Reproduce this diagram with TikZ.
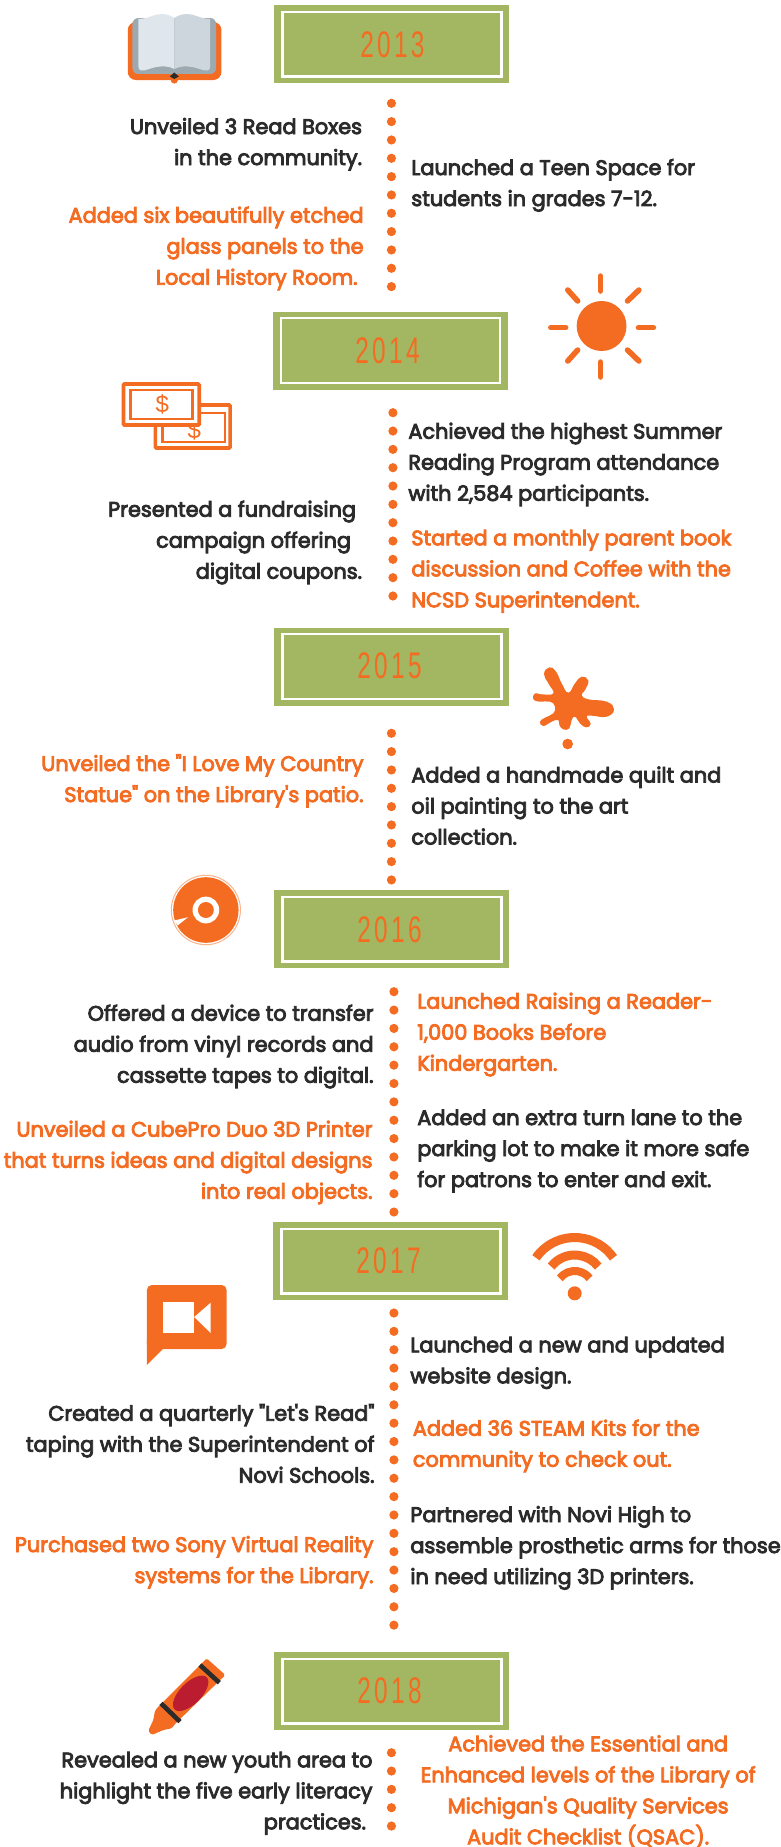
\documentclass[tikz,border=0pt]{standalone}
\usepackage{fontspec}
\setmainfont{Poppins}[FakeBold=4,FakeStretch=0.993]
\newfontfamily\yearfont{Liberation Sans}[FakeStretch=0.66,LetterSpace=9]
\newfontfamily\moneyfont{Liberation Sans}
\definecolor{org}{HTML}{F36C21}
\definecolor{grn}{HTML}{A3B763}
\definecolor{ink}{HTML}{2B2B2B}
\definecolor{bookgray}{HTML}{9DA9B0}
\definecolor{pageL}{HTML}{DFE6EC}
\definecolor{pageR}{HTML}{CDD6DD}
\definecolor{discring}{HTML}{F9B48E}
\definecolor{crayred}{HTML}{BC1C2F}
\tikzset{
  x=.996pt,y=-1pt,
  yearbox/.style={fill=grn,draw=none,minimum width=235pt,minimum height=78pt,inner sep=0pt,outer sep=0pt},
  yearframe/.style={draw=white,line width=2.4pt},
  yeartext/.style={text=org,inner sep=0pt,font=\yearfont\fontsize{37}{37}\selectfont},
  txt/.style={inner sep=0pt,outer sep=0pt,font=\fontsize{21}{31}\selectfont},
  dotmark/.style={fill=org,draw=none},
  ray/.style={draw=org,line width=5.5pt,line cap=round},
}
\newcommand{\yrbox}[6]{% name cx cy text tx ty
  \node[yearbox] (box#1) at (#2,#3) {};
  \draw[yearframe] (#2-110,#3-32.3) rectangle (#2+110,#3+32.3);
  \node[yeartext] (year#1) at (#5,#6) {#4};
}
\newcommand{\blkR}[5]{% name rightx baseline colour text
  \node[txt,align=right,anchor=north east,text=#4] (#1) at (#2,#3-17) {\rule{0pt}{17pt}#5};
}
\newcommand{\blkL}[5]{% name leftx baseline colour text
  \node[txt,align=left,anchor=north west,text=#4] (#1) at (#2,#3-17) {\rule{0pt}{17pt}#5};
}
\newcommand{\dotrun}[4]{% x first step count
  \foreach \i in {1,...,#4} {\fill[dotmark] (#1,{#2+(\i-1)*#3}) circle[radius=4.6];}
}
\begin{document}
\begin{tikzpicture}
\path[use as bounding box] (0,0) rectangle (784.137,1847);
\clip (0,0) rectangle (784.137,1847);
\fill[white] (0,0) rectangle (784.137,1847);

% year boxes
\yrbox{13}{393.5}{44}{2013}{394}{45}
\yrbox{14}{392}{350.5}{2014}{389}{351}
\yrbox{15}{393.5}{666.5}{2015}{391}{666}
\yrbox{16}{393.5}{929}{2016}{391}{930}
\yrbox{17}{392.5}{1261}{2017}{390}{1261}
\yrbox{18}{393.5}{1691}{2018}{391}{1691}

% dots
\dotrun{393}{103.3}{18.33}{11}
\dotrun{394.5}{412.7}{18.33}{11}
\dotrun{393}{733.3}{18.33}{9}
\dotrun{395.5}{991.7}{18.36}{13}
\dotrun{395.5}{1313}{18.36}{18}
\dotrun{393}{1752.7}{18.33}{5}

% text
\blkR{t1}{363.5}{134}{ink}{Unveiled 3 Read Boxes\\in the community.}
\blkR{t2}{365}{222.7}{org}{Added six beautifully etched\\glass panels to the\\Local History Room.\rule{6pt}{0pt}}
\blkL{t3}{413}{175}{ink}{Launched a Teen Space for\\students in grades 7-12.}
\blkR{t4}{363.5}{516.7}{ink}{Presented a fundraising\rule{6pt}{0pt}\\campaign offering\rule{11pt}{0pt}\\digital coupons.}
\blkL{t5}{410}{438.7}{ink}{Achieved the highest Summer\\Reading Program attendance\\with 2,584 participants.}
\blkL{t6}{413}{545.3}{org}{Started a monthly parent book\\discussion and Coffee with the\\NCSD Superintendent.}
\blkR{t7}{365}{771}{org}{Unveiled the \textquotedbl I Love My Country\\Statue\textquotedbl{} on the Library\textquotesingle s patio.}
\blkL{t8}{413}{782.5}{ink}{Added a handmade quilt and\\oil painting to the art\\collection.}
\blkR{t9}{375}{1020.7}{ink}{Offered a device to transfer\\audio from vinyl records and\\cassette tapes to digital.}
\blkR{t10}{374}{1136.7}{org}{Unveiled a CubePro Duo 3D Printer\\that turns ideas and digital designs\\into real objects.}
\blkL{t11}{419}{1008.7}{org}{Launched Raising a Reader-\\1,000 Books Before\\Kindergarten.}
\blkL{t12}{419}{1125}{ink}{Added an extra turn lane to the\\parking lot to make it more safe\\for patrons to enter and exit.}
\blkL{t13}{412}{1352.3}{ink}{Launched a new and updated\\website design.}
\blkR{t14}{376}{1420.7}{ink}{Created a quarterly \textquotedbl Let\textquotesingle s Read\textquotedbl\\taping with the Superintendent of\\Novi Schools.}
\blkL{t15}{414.5}{1435.7}{org}{Added 36 STEAM Kits for the\\community to check out.}
\blkL{t16}{412}{1522}{ink}{Partnered with Novi High to\\assemble prosthetic arms for those\\in need utilizing 3D printers.}
\blkR{t17}{375}{1552}{org}{Purchased two Sony Virtual Reality\\systems for the Library.}
\blkR{t18}{374}{1767.3}{ink}{Revealed a new youth area to\\highlight the five early literacy\\practices.\rule{6.5pt}{0pt}}
\node[txt,align=center,anchor=north,text=org] (t19) at (590.5,1751.3-17) {\rule{0pt}{17pt}Achieved the Essential and\\Enhanced levels of the Library of\\Michigan\textquotesingle s Quality Services\\Audit Checklist (QSAC).};

% book
\fill[org,rounded corners=8pt] (128.3,22) rectangle (222.3,80);
\fill[org] (175,80) circle[radius=3.6];
\fill[bookgray,rounded corners=6pt] (133,18) rectangle (217,74);
\fill[org] (133,74) -- (217,74) -- (217,76) -- (133,76) -- cycle;
\fill[pageL] (139,19) .. controls (148,19) and (155,14) .. (162,14) .. controls (168,14) and (172,16) .. (175,18) -- (175,69) .. controls (170,66) and (163,66) .. (157,67) .. controls (151,68) and (146,71) .. (142,70.5) .. controls (140,70) and (139,69) .. (139,67) -- cycle;
\fill[pageR] (211,19) .. controls (202,19) and (195,14) .. (188,14) .. controls (182,14) and (178,16) .. (175,18) -- (175,69) .. controls (180,66) and (187,66) .. (193,67) .. controls (199,68) and (204,71) .. (208,70.5) .. controls (210,70) and (211,69) .. (211,67) -- cycle;
\fill[ink] (170.5,76.5) -- (175,72.5) -- (179.5,76.5) -- (175,79) -- cycle;

% sun
\fill[org] (604,326) circle[radius=25];
\draw[ray] (603,276) -- (603,291);
\draw[ray] (603,362) -- (603,377);
\draw[ray] (553,327.7) -- (568,327.7);
\draw[ray] (641,327.7) -- (656,327.7);
\draw[ray] (570,290) -- (580,301);
\draw[ray] (641.5,290) -- (630,301);
\draw[ray] (570,361) -- (580,350);
\draw[ray] (641.5,361) -- (630,350);

% money
\draw[org,line width=3.6pt,rounded corners=1pt] (156,405) rectangle (231,448);
\draw[org,line width=2.6pt] (163,413) rectangle (226,442);
\node[text=org,inner sep=0pt,font=\moneyfont\fontsize{24}{24}\selectfont] (dollarback) at (195,430) {\$};
\fill[white] (122,382) rectangle (202,427);
\draw[org,line width=3.6pt,rounded corners=1pt] (124,384) rectangle (200,425);
\draw[org,line width=2.6pt] (131,390) rectangle (193,419);
\node[text=org,inner sep=0pt,font=\moneyfont\fontsize{24}{24}\selectfont] (dollarfront) at (163,404.5) {\$};

% splat
\begin{scope}[shift={(520pt,-650pt)},x=.3333pt,y=-.3333pt]
\fill[org] plot[smooth cycle,tension=.8] coordinates {(72,72) (88,52) (108,65) (125,100) (145,128) (165,100) (185,80) (205,92) (195,120) (185,135) (205,148) (260,155) (282,178) (260,200) (215,197) (200,200) (212,222) (198,232) (180,220) (165,200) (155,210) (148,235) (130,238) (118,225) (115,210) (95,215) (70,228) (60,215) (75,203) (100,190) (105,170) (90,155) (60,155) (40,148) (45,130) (65,133) (100,130) (85,100)};
\fill[org] (143,282) circle[radius=16];
\end{scope}

% disc
\draw[discring,line width=1pt] (206.7,910) circle[radius=34.7];
\fill[org] (206.7,910) circle[radius=32.8];
\fill[white] (206.7,910) circle[radius=13.4];
\fill[org] (206.7,910) circle[radius=8];
\fill[white] (188.8,917.2) -- (175,920.5) -- (178.3,925.5) -- cycle;

% wifi
\draw[org,line width=9pt] (577,1285) ++(215:47.5) arc[start angle=215,end angle=325,radius=47.5];
\draw[org,line width=9pt] (577,1285) ++(218:30) arc[start angle=218,end angle=322,radius=30];
\draw[org,line width=8pt] (577,1290) ++(218:19) arc[start angle=218,end angle=322,radius=19];
\fill[org] (577,1293.3) circle[radius=7];

% video bubble
\fill[org,rounded corners=5pt] (147.5,1349) -- (147.5,1285) -- (227.5,1285) -- (227.5,1349) -- cycle;
\fill[org] (147.5,1340) -- (147.5,1365) -- (163.5,1349) -- (163.5,1340) -- cycle;
\fill[white] (163.5,1301.7) rectangle (195,1333);
\fill[white] (195,1317) -- (211.5,1302.7) -- (211.5,1333) -- cycle;

% crayon
\begin{scope}[shift={(130pt,-1640pt)},x=.3333pt,y=-.3333pt]
\fill[org,rounded corners=1.5pt] (230,55) -- (286,105) -- (137,250) -- (125,265) -- (100,270) -- (65,285) -- (55,272) -- (70,240) -- (75,212) -- (85,200) -- cycle;
\fill[crayred,rotate around={45:(182,160)}] (182,160) ellipse[x radius=68,y radius=32];
\draw[ink,line width=4.6pt] (210,75) -- (268,128);
\draw[ink,line width=4.6pt] (93,190) -- (150,245);
\end{scope}
\end{tikzpicture}
\end{document}
